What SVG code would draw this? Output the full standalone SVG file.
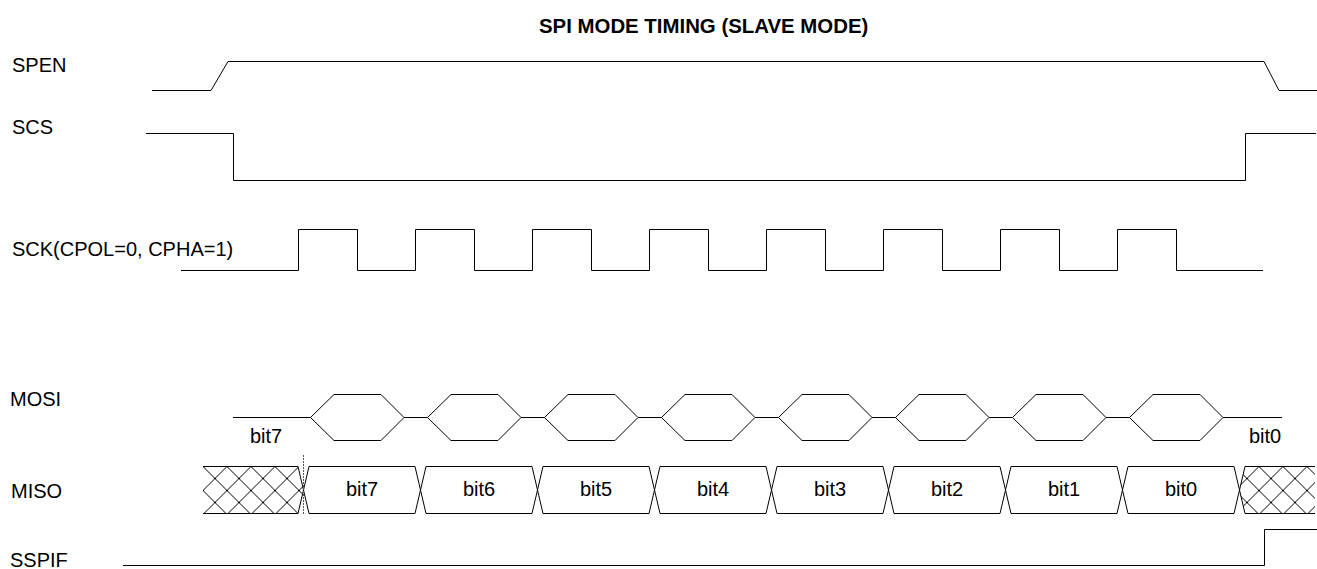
<svg xmlns="http://www.w3.org/2000/svg" width="1317" height="569" viewBox="0 0 1317 569">
<style>
text{font-family:"Liberation Sans",Arial,sans-serif;font-size:20px;fill:#000}
.title{font-weight:bold;font-size:20.4px}
.mid{text-anchor:middle}
.w{fill:none;stroke:#000;stroke-width:1;stroke-linejoin:miter}
.cell{fill:#fff;stroke:#000;stroke-width:1}
</style>
<defs>
<pattern id="hatch" patternUnits="userSpaceOnUse" x="203" y="466.5" width="24" height="24">
<path d="M0,0 L24,24 M24,0 L0,24" stroke="#000" stroke-width="1" fill="none"/>
</pattern>
</defs>
<rect width="1317" height="569" fill="#fff"/>
<text class="title" x="539" y="33">SPI MODE TIMING (SLAVE MODE)</text>

<g id="spen">
<text x="12" y="72">SPEN</text>
<path class="w" d="M152,90.5 L211,90.5 L228,61.5 L1264,61.5 L1279,90.5 L1317,90.5"/>
</g>

<g id="scs">
<text x="12" y="134">SCS</text>
<path class="w" d="M146,133.5 L233.5,133.5 L233.5,180.5 L1245.5,180.5 L1245.5,133.5 L1316,133.5"/>
</g>

<g id="sck">
<text x="12" y="256">SCK(CPOL=0, CPHA=1)</text>
<path class="w" d="M181,270.5 H298.5 V229.5 H357.5 V270.5 H415.5 V229.5 H474.5 V270.5 H532.5 V229.5 H591.5 V270.5 H649.5 V229.5 H708.5 V270.5 H766.5 V229.5 H825.5 V270.5 H883.5 V229.5 H942.5 V270.5 H1000.5 V229.5 H1059.5 V270.5 H1117.5 V229.5 H1176.5 V270.5 H1263"/>
</g>

<g id="mosi">
<text x="10" y="406">MOSI</text>
<path class="w" d="M233,417.5 L310.5,417.5 L334,394.5 L381,394.5 L404,417.5 L427.5,417.5 L451,394.5 L498,394.5 L521,417.5 L544.5,417.5 L568,394.5 L615,394.5 L638,417.5 L661.5,417.5 L685,394.5 L732,394.5 L755,417.5 L778.5,417.5 L802,394.5 L849,394.5 L872,417.5 L895.5,417.5 L919,394.5 L966,394.5 L989,417.5 L1012.5,417.5 L1036,394.5 L1083,394.5 L1106,417.5 L1129.5,417.5 L1153,394.5 L1200,394.5 L1223,417.5 L1282,417.5"/>
<path class="w" d="M310.5,417.5 L334,440.5 L381,440.5 L404,417.5 M427.5,417.5 L451,440.5 L498,440.5 L521,417.5 M544.5,417.5 L568,440.5 L615,440.5 L638,417.5 M661.5,417.5 L685,440.5 L732,440.5 L755,417.5 M778.5,417.5 L802,440.5 L849,440.5 L872,417.5 M895.5,417.5 L919,440.5 L966,440.5 L989,417.5 M1012.5,417.5 L1036,440.5 L1083,440.5 L1106,417.5 M1129.5,417.5 L1153,440.5 L1200,440.5 L1223,417.5"/>
<text x="250" y="443">bit7</text>
<text x="1249" y="443">bit0</text>
</g>

<g id="miso">
<text x="11" y="498">MISO</text>
<polygon points="203,466.5 298,466.5 303.5,490 298,513.5 203,513.5" fill="url(#hatch)" stroke="none"/>
<path class="w" d="M203,466.5 H298 L303.5,490 L298,513.5 H203"/>
<polygon points="1245,466.5 1315,466.5 1315,513.5 1245,513.5 1239.5,490" fill="url(#hatch)" stroke="none"/>
<path class="w" d="M1315,466.5 H1245 L1239.5,490 L1245,513.5 H1315"/>
<polygon class="cell" points="309,466.5 415,466.5 420.5,490 415,513.5 309,513.5 303.5,490"/>
<polygon class="cell" points="426,466.5 532,466.5 537.5,490 532,513.5 426,513.5 420.5,490"/>
<polygon class="cell" points="543,466.5 649,466.5 654.5,490 649,513.5 543,513.5 537.5,490"/>
<polygon class="cell" points="660,466.5 766,466.5 771.5,490 766,513.5 660,513.5 654.5,490"/>
<polygon class="cell" points="777,466.5 883,466.5 888.5,490 883,513.5 777,513.5 771.5,490"/>
<polygon class="cell" points="894,466.5 1000,466.5 1005.5,490 1000,513.5 894,513.5 888.5,490"/>
<polygon class="cell" points="1011,466.5 1117,466.5 1122.5,490 1117,513.5 1011,513.5 1005.5,490"/>
<polygon class="cell" points="1128,466.5 1234,466.5 1239.5,490 1234,513.5 1128,513.5 1122.5,490"/>
<text class="mid" x="362" y="496">bit7</text>
<text class="mid" x="479" y="496">bit6</text>
<text class="mid" x="596" y="496">bit5</text>
<text class="mid" x="713" y="496">bit4</text>
<text class="mid" x="830" y="496">bit3</text>
<text class="mid" x="947" y="496">bit2</text>
<text class="mid" x="1064" y="496">bit1</text>
<text class="mid" x="1181" y="496">bit0</text>
<line x1="303.5" y1="455" x2="303.5" y2="514" stroke="#555" stroke-width="1" stroke-dasharray="2,1"/>
</g>

<g id="sspif">
<text x="10" y="567">SSPIF</text>
<path class="w" d="M123,565.5 H1264.5 V529.5 H1317"/>
</g>
</svg>
